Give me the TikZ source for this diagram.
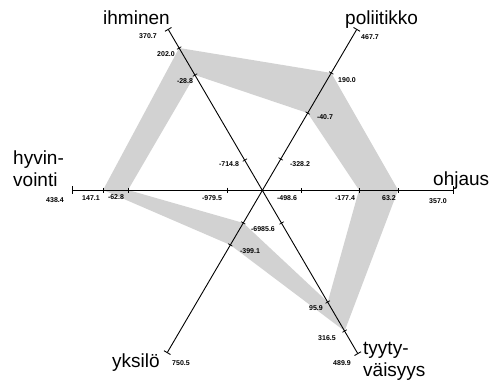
\documentclass[tikz,border=0pt]{standalone}
\usepackage{fontspec}
\setmainfont{Liberation Sans}
\usetikzlibrary{calc}
\tikzset{
  axisline/.style={line width=0.9pt, |-|},
  tickline/.style={line width=0.7pt},
  biglabel/.style={font=\fontsize{19}{22}\selectfont, inner sep=0pt},
  vallabel/.style={font=\fontsize{7}{8}\selectfont\bfseries, inner sep=0pt},
  band/.style={fill=gray!35, even odd rule},
}
\begin{document}
\begin{tikzpicture}[x=1pt,y=-1pt]
\useasboundingbox (0,0) rectangle (503,385);
% axis ends
\coordinate (C) at (262.5,190);
\coordinate (ihE) at (168,29);
\coordinate (tyE) at (358,354);
\coordinate (poE) at (357,29);
\coordinate (ykE) at (167,353);
\coordinate (hyE) at (72,190);
\coordinate (ohE) at (454,190);
% tick points
\foreach \n/\t/\e in {ih1/0.186/ihE, ih2/0.714/ihE, ih3/0.882/ihE,
                      ty1/0.201/tyE, ty2/0.683/tyE, ty3/0.860/tyE,
                      po1/0.193/poE, po2/0.478/poE, po3/0.727/poE,
                      yk1/0.202/ykE, yk2/0.337/ykE,
                      oh1/0.201/ohE, oh2/0.504/ohE, oh3/0.708/ohE,
                      hy1/0.186/hyE, hy2/0.706/hyE, hy3/0.837/hyE}
  \coordinate (\n) at ($(C)!\t!(\e)$);
% shaded band
\fill[band] (ih3) -- (po3) -- (oh3) -- (ty3) -- (yk2) -- (hy3) -- cycle
            (ih2) -- (po2) -- (oh2) -- (ty2) -- (yk1) -- (hy2) -- cycle;
% axes
\draw[axisline] (hyE) -- (ohE);
\draw[axisline] (ihE) -- (tyE);
\draw[axisline] (poE) -- (ykE);
\foreach \p in {ih1,ih2,ih3,ty1,ty2,ty3,po1,po2,po3,yk1,yk2,oh1,oh2,oh3,hy1,hy2,hy3}
  \draw[tickline] ($(\p)!2.5pt!90:(C)$) -- ($(\p)!2.5pt!-90:(C)$);
% axis names
\node[biglabel, anchor=base west] (ihminen) at (103,25) {ihminen};
\node[biglabel, anchor=base west] (poliitikko) at (345,25) {poliitikko};
\node[biglabel, anchor=base west] (ohjaus) at (433,185) {ohjaus};
\node[biglabel, anchor=base west] (yksilo) at (112,367) {yksilö};
\node[biglabel, anchor=north west, align=left] (hyvinvointi) at (13,151) {hyvin-\\vointi};
\node[biglabel, anchor=north west, align=left] (tyytyvaisyys) at (363,342) {tyyty-\\väisyys};
% values
\node[vallabel] (v3707) at (148,36) {370.7};
\node[vallabel] (v2020) at (166,54) {202.0};
\node[vallabel] (v288) at (185,81) {-28.8};
\node[vallabel] (v7148) at (229,164) {-714.8};
\node[vallabel] (v6985) at (263,229) {-6985.6};
\node[vallabel] (v959) at (316,308) {95.9};
\node[vallabel] (v3165) at (327,338) {316.5};
\node[vallabel] (v4899) at (342,363) {489.9};
\node[vallabel] (v4677) at (370,37) {467.7};
\node[vallabel] (v1900) at (347,80) {190.0};
\node[vallabel] (v407) at (325,117) {-40.7};
\node[vallabel] (v3282) at (300,164) {-328.2};
\node[vallabel] (v3991) at (250,251) {-399.1};
\node[vallabel] (v7505) at (181,363) {750.5};
\node[vallabel] (v4384) at (55,200) {438.4};
\node[vallabel] (v1471) at (91,198) {147.1};
\node[vallabel] (v628) at (116,197) {-62.8};
\node[vallabel] (v9795) at (212,198) {-979.5};
\node[vallabel] (v4986) at (287,198) {-498.6};
\node[vallabel] (v1774) at (345,198) {-177.4};
\node[vallabel] (v632) at (389,198) {63.2};
\node[vallabel] (v3570) at (438,201) {357.0};
\end{tikzpicture}
\end{document}
